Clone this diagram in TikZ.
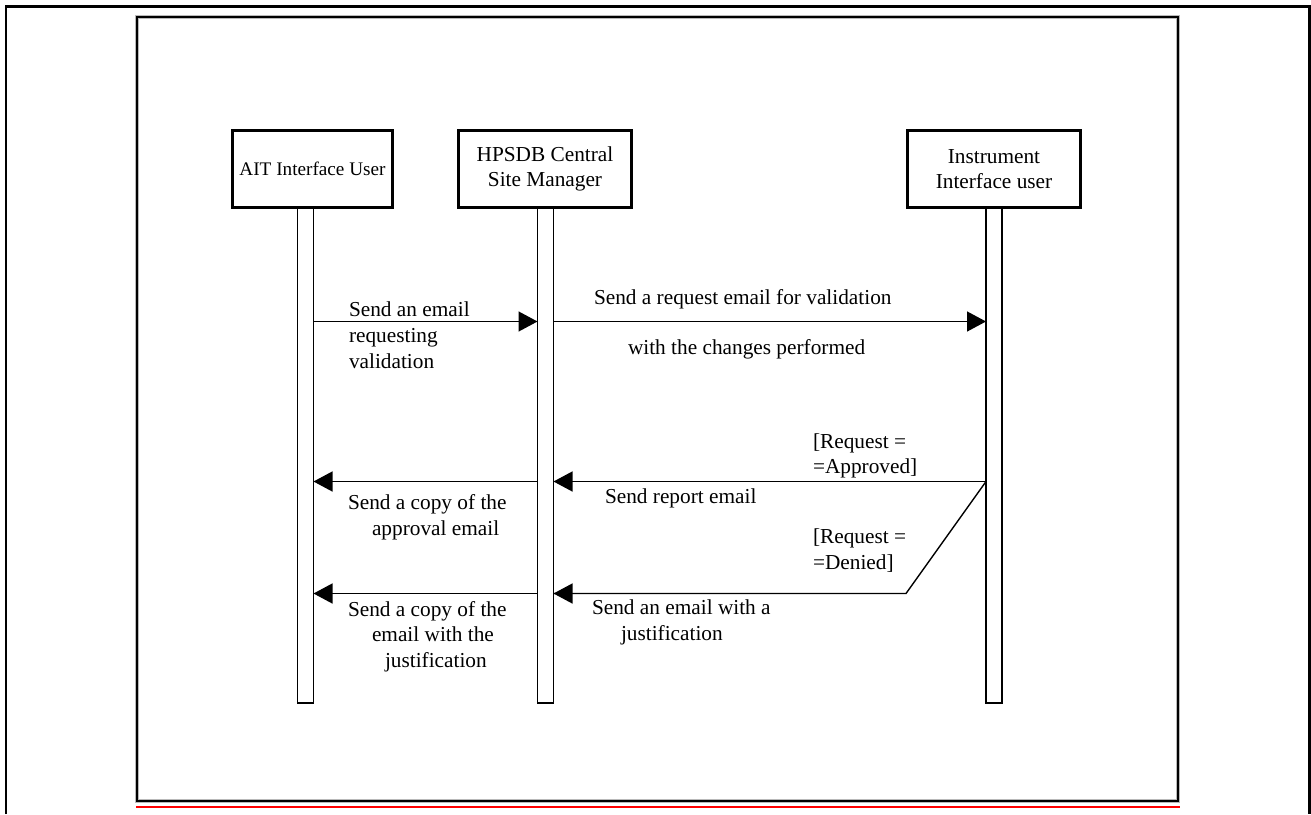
\documentclass[tikz,border=0pt]{standalone}
\usepackage{fontspec}
\setmainfont{Liberation Serif}
\usetikzlibrary{arrows.meta}
\begin{document}
\begin{tikzpicture}[x=1pt,y=-1pt,
  every node/.style={inner sep=0pt,outer sep=0pt},
  actor/.style={draw,line width=3pt,minimum width=160pt,minimum height=77pt,
    align=center,font=\fontsize{21.3}{25.5}\selectfont},
  lifebar/.style={draw,line width=1.5pt,minimum width=16pt,minimum height=495pt,anchor=north},
  msg/.style={line width=1.4pt,-{Triangle[length=19pt,width=20pt]}},
  guard/.style={line width=1.4pt},
  lbl/.style={anchor=base west,font=\fontsize{21.3}{25.5}\selectfont}
]
\useasboundingbox (0,0) rectangle (1311,814);

% page border and frame
\draw[line width=2.5pt] (6,814) -- (6,6.5) -- (1309.5,6.5) -- (1309.5,814);
\draw[gray!55,line width=3.6pt] (137,17) rectangle (1178,801);
\draw[line width=1.8pt] (137,17) rectangle (1178,801);
\draw[red,line width=2.2pt] (136,807) -- (1180,807);

% lifelines
\node[lifebar] (barA) at (305.5,208) {};
\node[lifebar] (barH) at (545.5,208) {};
\node[lifebar] (barI) at (994,208) {};

% actors
\node[actor,minimum width=160pt,font=\fontsize{19.2}{23}\selectfont] (ait) at (312.5,169) {AIT Interface User};
\node[actor,minimum width=173pt] (hpsdb) at (545,169) {HPSDB Central\\Site Manager};
\node[actor,minimum width=173pt] (instr) at (994,169) {Instrument\\Interface user};

% message rows
\coordinate (r1) at (0,321.5);
\coordinate (r2) at (0,481.5);
\coordinate (bend) at (906,593.5);

\draw[msg] (barA.east |- r1) -- (barH.west |- r1);
\draw[msg] (barH.east |- r1) -- (barI.west |- r1);
\draw[msg] (barI.west |- r2) -- (barH.east |- r2);
\draw[msg] (barH.west |- r2) -- (barA.east |- r2);
\draw[guard,line join=miter] (barI.west |- r2) -- (bend) -- (barH.east |- bend);
\draw[msg] (barH.east |- bend) ++(60,0) -- (barH.east |- bend);
\draw[msg] (barH.west |- bend) -- (barA.east |- bend);

% labels
\node[lbl] (t1a) at (349,316) {Send an email};
\node[lbl] (t1b) at (349,342) {requesting};
\node[lbl] (t1c) at (349,368) {validation};

\node[lbl] (t2a) at (594,304) {Send a request email for validation};
\node[lbl] (t2b) at (628,354) {with the changes performed};

\node[lbl] (g1a) at (813,448) {[Request =};
\node[lbl] (g1b) at (813,473) {=Approved]};
\node[lbl] (t3) at (605,503) {Send report email};

\node[lbl] (g2a) at (813,543) {[Request =};
\node[lbl] (g2b) at (813,569) {=Denied]};
\node[lbl] (t4a) at (592,614) {Send an email with a};
\node[lbl] (t4b) at (621,640) {justification};

\node[lbl] (t5a) at (348,509) {Send a copy of the};
\node[lbl] (t5b) at (372,535) {approval email};

\node[lbl] (t6a) at (348,616) {Send a copy of the};
\node[lbl] (t6b) at (372,641) {email with the};
\node[lbl] (t6c) at (385,667) {justification};
\end{tikzpicture}
\end{document}
